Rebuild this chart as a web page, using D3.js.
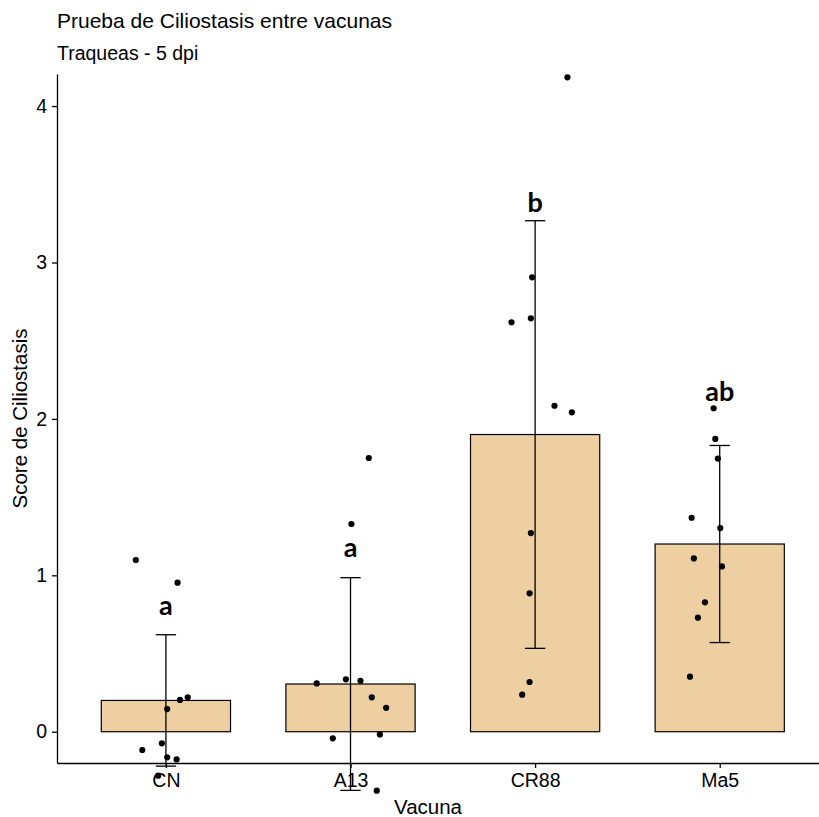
<!DOCTYPE html>
<html>
<head>
<meta charset="utf-8">
<script src="https://cdn.jsdelivr.net/npm/d3@7"></script>
<style>
  html, body { margin: 0; padding: 0; background: #fff; }
  svg { display: block; }
  text { font-family: "Liberation Sans", Arial, sans-serif; fill: #000; }
</style>
</head>
<body>
<svg id="chart" width="819" height="817"></svg>
<script>
// Vaccine groups
const categories = ["CN", "A13", "CR88", "Ma5"];
// Group means and standard deviations of the ciliostasis score
const means = [0.2, 0.305, 1.9, 1.2];
const sds = [0.42, 0.68, 1.367, 0.63];
// Significance letters and the score at which each one sits
const letters = ["a", "a", "b", "ab"];
const letterY = [0.746, 1.117, 3.325, 2.114];
// Individual tracheas (jittered as plotted): score and horizontal jitter per group
const pointsCN = [1.098, 0.953, 0.22, 0.203, 0.145, -0.074, -0.117, -0.164, -0.177, -0.281];
const jitterCN = [-0.163, 0.063, 0.118, 0.076, 0.007, -0.022, -0.128, 0.007, 0.058, -0.042];
const pointsA13 = [1.75, 1.328, 0.335, 0.326, 0.309, 0.22, 0.153, -0.017, -0.042, -0.377];
const jitterA13 = [0.099, 0.005, -0.025, 0.054, -0.183, 0.115, 0.193, 0.159, -0.096, 0.142];
const pointsCR88 = [4.184, 2.905, 2.643, 2.618, 2.084, 2.042, 1.27, 0.885, 0.318, 0.237];
const jitterCR88 = [0.175, -0.016, -0.023, -0.128, 0.105, 0.199, -0.023, -0.030, -0.030, -0.070];
const pointsMa5 = [2.068, 1.872, 1.746, 1.368, 1.302, 1.108, 1.057, 0.827, 0.729, 0.352];
const jitterMa5 = [-0.033, -0.024, -0.010, -0.152, 0.003, -0.140, 0.012, -0.080, -0.118, -0.161];
const yTicks = [0, 1, 2, 3, 4];

const groupPoints = [pointsCN, pointsA13, pointsCR88, pointsMa5];
const groupJitter = [jitterCN, jitterA13, jitterCR88, jitterMa5];

const svg = d3.select("#chart");
const panelLeft = 57, panelTop = 74, panelBottom = 763;

// Discrete axis as a continuous index scale (bars 0.7 wide, 0.59 padding at the ends)
const x = d3.scaleLinear().domain([-0.59, 3.59]).range([panelLeft, panelLeft + 4.18 * 184.6]);
const y = d3.scaleLinear().domain([-0.2, 4.205]).range([panelBottom, panelTop]);

const barFill = "#EDCFA1";

// Bars
svg.append("g").selectAll("rect").data(means).join("rect")
  .attr("x", (d, i) => x(i - 0.35))
  .attr("width", x(0.35) - x(-0.35))
  .attr("y", d => y(d))
  .attr("height", d => y(0) - y(d))
  .attr("fill", barFill)
  .attr("stroke", "#000")
  .attr("stroke-width", 1.2);

// Points
const pts = [];
groupPoints.forEach((arr, g) => arr.forEach((v, k) => pts.push({ g, v, j: groupJitter[g][k] })));
svg.append("g").selectAll("circle").data(pts).join("circle")
  .attr("cx", d => x(d.g + d.j))
  .attr("cy", d => y(d.v))
  .attr("r", 3.1)
  .attr("fill", "#000");

// Error bars (mean ± sd)
const eb = svg.append("g").attr("stroke", "#000").attr("stroke-width", 1.3);
means.forEach((m, i) => {
  const lo = m - sds[i], hi = m + sds[i];
  eb.append("line").attr("x1", x(i)).attr("x2", x(i)).attr("y1", y(hi)).attr("y2", y(lo));
  eb.append("line").attr("x1", x(i - 0.055)).attr("x2", x(i + 0.055)).attr("y1", y(hi)).attr("y2", y(hi));
  eb.append("line").attr("x1", x(i - 0.055)).attr("x2", x(i + 0.055)).attr("y1", y(lo)).attr("y2", y(lo));
});

// Significance letters
svg.append("g").selectAll("text").data(letters).join("text")
  .attr("x", (d, i) => x(i))
  .attr("y", (d, i) => y(letterY[i]))
  .attr("text-anchor", "middle")
  .style("font-family", "Lato, 'Open Sans', sans-serif")
  .style("font-weight", "bold")
  .style("font-size", "27px")
  .text(d => d);

// Y axis
const yAxis = svg.append("g").attr("transform", `translate(${panelLeft},0)`)
  .call(d3.axisLeft(y).tickValues(yTicks).tickSize(5).tickSizeOuter(0).tickPadding(5).tickFormat(d3.format("d")));
yAxis.select(".domain").attr("stroke-width", 1.3);
yAxis.selectAll(".tick line").attr("stroke-width", 1.3);
yAxis.selectAll("text").style("font-size", "19.5px").attr("fill", "#000")
  .style("font-family", "'Liberation Sans', Arial, sans-serif");

// X axis
const xAxis = svg.append("g").attr("transform", `translate(0,${panelBottom})`)
  .call(d3.axisBottom(x).tickValues(d3.range(categories.length)).tickSize(5).tickSizeOuter(0)
    .tickPadding(5).tickFormat(i => categories[i]));
xAxis.select(".domain").attr("stroke-width", 1.3);
xAxis.selectAll(".tick line").attr("stroke-width", 1.3);
xAxis.selectAll("text").style("font-size", "19.5px").attr("fill", "#000")
  .style("font-family", "'Liberation Sans', Arial, sans-serif");

// Titles
svg.append("text").attr("x", 57).attr("y", 28).style("font-size", "21px")
  .text("Prueba de Ciliostasis entre vacunas");
svg.append("text").attr("x", 57).attr("y", 60).style("font-size", "19.5px")
  .text("Traqueas - 5 dpi");
svg.append("text").attr("x", 428).attr("y", 814).attr("text-anchor", "middle")
  .style("font-size", "20.5px").text("Vacuna");
svg.append("text").attr("transform", `translate(27,${(panelTop + panelBottom) / 2}) rotate(-90)`)
  .attr("text-anchor", "middle").style("font-size", "20.5px").text("Score de Ciliostasis");
</script>
</body>
</html>
